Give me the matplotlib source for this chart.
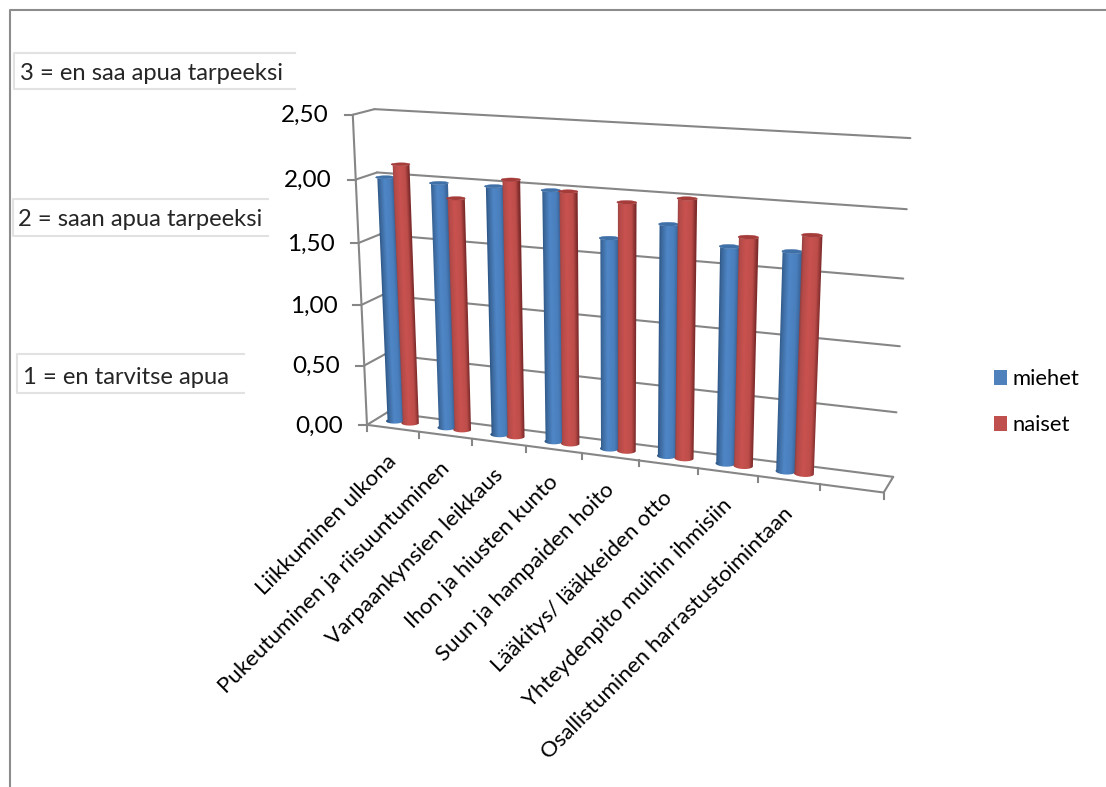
import numpy as np
import matplotlib
matplotlib.use("Agg")
import matplotlib.pyplot as plt
from matplotlib.patches import Patch, Polygon
from matplotlib.transforms import Affine2D

plt.rcParams["font.family"] = ["Lato", "DejaVu Sans"]

# Survey data: mean need-for-help score per daily activity
categories = [
    "Liikkuminen ulkona",
    "Pukeutuminen ja riisuuntuminen",
    "Varpaankynsien leikkaus",
    "Ihon ja hiusten kunto",
    "Suun ja hampaiden hoito",
    "Lääkitys/ lääkkeiden otto",
    "Yhteydenpito muihin ihmisiin",
    "Osallistuminen harrastustoimintaan",
]
miehet = [2.00, 1.985, 1.99, 1.99, 1.66, 1.80, 1.67, 1.67]
naiset = [2.11, 1.875, 2.05, 1.99, 1.94, 2.00, 1.75, 1.80]
y_ticks = [0.0, 0.5, 1.0, 1.5, 2.0, 2.5]
scale_notes = ["3 = en saa apua tarpeeksi", "2 = saan apua tarpeeksi", "1 = en tarvitse apua"]
series_names = ["miehet", "naiset"]

N_SLOTS = 9            # one empty category slot follows the last activity
Y_MAX = 2.5

# Camera calibration: (category, value, depth) -> canvas position
calib_world = np.array([
    (0, 0, 0), (0, 2.5, 0), (0, 2, 0), (0, 1.5, 0),
    (0, 0, 1), (0, 2.5, 1), (0, 2, 1),
    (9, 0, 1), (9, 2.5, 1), (9, 2, 1), (9, 1, 1),
    (9, 0, 0), (1, 0, 0), (2, 0, 0), (3, 0, 0), (4, 0, 0),
    (5, 0, 0), (6, 0, 0), (7, 0, 0), (8, 0, 0),
], dtype=float)
calib_canvas = np.array([
    (368, 425), (352, 115), (355, 180), (359, 242),
    (386, 412), (375, 109), (378, 172.5),
    (893, 477), (910, 138), (907, 209), (900, 347),
    (884, 492), (419, 432), (471, 438.7), (526, 446), (582, 453),
    (639, 460.5), (697, 468), (758, 476), (820, 484),
], dtype=float)


def fit_camera(world, canvas):
    rows, rhs = [], []
    for (c, v, d), (u, w) in zip(world, canvas):
        rows.append([c, v, d, 1, 0, 0, 0, 0, -u * c, -u * v, -u * d])
        rhs.append(u)
        rows.append([0, 0, 0, 0, c, v, d, 1, -w * c, -w * v, -w * d])
        rhs.append(w)
    p, *_ = np.linalg.lstsq(np.array(rows), np.array(rhs), rcond=None)
    return np.append(p, 1.0).reshape(3, 4)


CAMERA = fit_camera(calib_world, calib_canvas)


def project(c, v, d):
    c, v, d = np.broadcast_arrays(np.asarray(c, float), np.asarray(v, float), np.asarray(d, float))
    h = np.stack([c, v, d, np.ones_like(c)], axis=-1) @ CAMERA.T
    return h[..., :2] / h[..., 2:3]


def shade(stops, t):
    pos = [s[0] for s in stops]
    rgb = np.array([matplotlib.colors.to_rgb(s[1]) for s in stops])
    return np.stack([np.interp(t, pos, rgb[:, k]) for k in range(3)], axis=-1)


# Cylinder shading from the left silhouette (0) to the right silhouette (1)
BLUE_RAMP = [(0.0, "#2c5585"), (0.10, "#3a6699"), (0.42, "#4f86c6"), (0.78, "#4a7fbd"), (1.0, "#3a659b")]
RED_RAMP = [(0.0, "#94403f"), (0.10, "#b34a48"), (0.42, "#c9524f"), (0.78, "#bd4d4a"), (1.0, "#7d2b2b")]
BLUE_CAP = "#3f70a8"
RED_CAP = "#a53c3a"
GRID = "#868686"

fig = plt.figure(figsize=(11.06, 7.87), dpi=100, facecolor="white")
ax = fig.add_axes([0, 0, 1, 1])
ax.axis("off")

# Outer chart frame along the top and left edges
ax.plot([9.5, 9.5, 1106], [787, 10, 10], color="#8c8c8c", lw=1.5, zorder=1)


def seg(p, q, **kw):
    a, b = project(*p), project(*q)
    ax.plot([a[0], b[0]], [a[1], b[1]], color=GRID, solid_capstyle="round", zorder=2, **kw)


# Walls, floor and value axis
for t in y_ticks:
    seg((0, t, 1), (N_SLOTS, t, 1), lw=1.5)
    seg((0, t, 0), (0, t, 1), lw=1.5)
    a = project(0, t, 0)
    ax.plot([a[0] - 8, a[0]], [a[1], a[1]], color=GRID, lw=1.5, zorder=2)
    ax.text(a[0] - 24, a[1] + 1, f"{t:.2f}".replace(".", ","), ha="right", va="center",
            fontsize=17.5, color="black")
seg((0, 0, 0), (0, Y_MAX, 0), lw=1.5)
seg((0, 0, 0), (N_SLOTS, 0, 0), lw=1.5)
seg((N_SLOTS, 0, 0), (N_SLOTS, 0, 1), lw=1.5)
for i in range(N_SLOTS + 1):
    a = project(i, 0, 0)
    ax.plot([a[0], a[0]], [a[1], a[1] + 6], color=GRID, lw=1.5, zorder=2)

# Rotated activity labels under the floor
for i, label in enumerate(categories):
    a = project(i + 0.5, 0, 0)
    ax.text(a[0] - 6, a[1] + 23, label, rotation=45, ha="right", va="top",
            rotation_mode="anchor", fontsize=16.0, color="black")


def draw_cylinder(center_c, value, ramp, cap, zorder):
    rc, rd, d0 = 0.158, 0.2, 0.5
    # Horizontal gradient sheared onto the tilted bar, clipped to its outline
    bl = project(center_c - rc, 0.0, d0)
    br = project(center_c + rc, 0.0, d0)
    tl = project(center_c - rc, value, d0)
    across = br - bl
    along = tl - bl
    to_canvas = Affine2D.from_values(across[0], across[1], along[0], along[1], bl[0], bl[1])
    gradient = shade(ramp, np.clip(np.linspace(-0.25, 1.25, 96), 0, 1))[None, :, :]
    image = ax.imshow(gradient, extent=(-0.25, 1.25, -0.1, 1.1), origin="lower", aspect="auto",
                      interpolation="bilinear", transform=to_canvas + ax.transData, zorder=zorder)
    theta = np.linspace(-np.pi - 0.12, 0.12, 41)
    cc = center_c + rc * np.cos(theta)
    dd = d0 + rd * np.sin(theta)
    outline = np.vstack([project(cc, 0.0, dd), project(cc[::-1], value, dd[::-1])])
    image.set_clip_path(Polygon(outline, closed=True, transform=ax.transData))
    ring = np.linspace(0, 2 * np.pi, 60)
    lid = project(center_c + rc * np.cos(ring), value, d0 + rd * np.sin(ring))
    ax.fill(lid[:, 0], lid[:, 1], color=cap, lw=0.3, zorder=zorder + 0.1)


for i, (m, n) in enumerate(zip(miehet, naiset)):
    z = 3 + i
    draw_cylinder(i + 0.35, m, BLUE_RAMP, BLUE_CAP, z)
    draw_cylinder(i + 0.65, n, RED_RAMP, RED_CAP, z + 0.4)

# Scale explanation strips on the left
note_boxes = [(14, 53, 295, 89, 20, 73), (13, 199, 268, 236, 18, 220), (17, 354, 244, 393, 23, 377)]
for note, (x0, y0, x1, y1, tx, ty) in zip(scale_notes, note_boxes):
    ax.plot([x1, x0, x0, x1], [y0, y0, y1, y1], color="#e2e2e2", lw=1.5, zorder=1)
    ax.text(tx, ty, note, ha="left", va="center", fontsize=17.1, color="#262626")

handles = [Patch(facecolor="#4f81bd", label=series_names[0]), Patch(facecolor="#c0504d", label=series_names[1])]
ax.legend(handles=handles, loc="center left", bbox_to_anchor=(985 / 1106, 1 - 402 / 787), frameon=False,
          fontsize=15.8, handlelength=0.62, handleheight=0.65, handletextpad=0.25, labelspacing=1.18,
          borderaxespad=0, borderpad=0.4)

ax.set_xlim(0, 1106)
ax.set_ylim(787, 0)
ax.set_aspect("auto")

fig.savefig("out.png", dpi=100, facecolor="white")
